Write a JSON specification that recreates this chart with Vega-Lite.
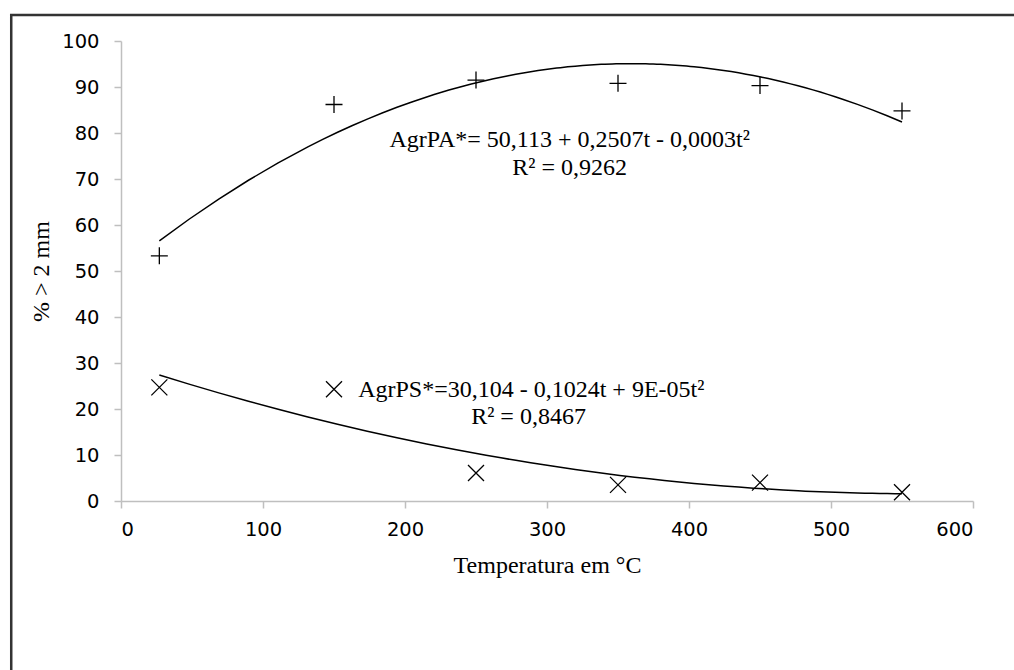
{
  "$schema": "https://vega.github.io/schema/vega-lite/v6.json",
  "autosize": {"type": "none"},
  "width": 852,
  "height": 460,
  "padding": {"left": 121, "top": 41, "right": 41, "bottom": 169},
  "background": "white",
  "config": {"view": {"stroke": null}},
  "datasets": {
    "points": [
      {"series": "AgrPA", "t": 27, "pct": 53.3},
      {"series": "AgrPA", "t": 150, "pct": 86.2},
      {"series": "AgrPA", "t": 250, "pct": 91.5},
      {"series": "AgrPA", "t": 350, "pct": 90.8},
      {"series": "AgrPA", "t": 450, "pct": 90.3},
      {"series": "AgrPA", "t": 550, "pct": 84.8},
      {"series": "AgrPS", "t": 27, "pct": 24.7},
      {"series": "AgrPS", "t": 150, "pct": 24.3},
      {"series": "AgrPS", "t": 250, "pct": 6.1},
      {"series": "AgrPS", "t": 350, "pct": 3.5},
      {"series": "AgrPS", "t": 450, "pct": 4.0},
      {"series": "AgrPS", "t": 550, "pct": 1.9}
    ],
    "labels": [
      {"label": "AgrPA*= 50,113 + 0,2507t - 0,0003t²", "t": 316, "pct": 78.5, "anchor": "center"},
      {"label": "R² = 0,9262", "t": 316, "pct": 72.5, "anchor": "center"},
      {"label": "AgrPS*=30,104 - 0,1024t + 9E-05t²", "t": 167, "pct": 24.2, "anchor": "left"},
      {"label": "R² = 0,8467", "t": 287, "pct": 18.3, "anchor": "center"}
    ]
  },
  "layer": [
    {
      "data": {"name": "points"},
      "transform": [{"regression": "pct", "on": "t", "method": "poly", "order": 2, "groupby": ["series"]}],
      "mark": {"type": "line", "color": "#000", "strokeWidth": 1.5},
      "encoding": {
        "x": {"field": "t", "type": "quantitative",
          "scale": {"domain": [0, 600], "nice": false, "zero": false},
          "axis": {"title": "Temperatura em °C", "values": [0, 100, 200, 300, 400, 500, 600],
            "grid": false, "domainColor": "#bfbfbf", "domainWidth": 1.5, "tickColor": "#bfbfbf", "tickWidth": 1.5, "tickSize": 7,
            "labelFont": "DejaVu Sans", "labelFontSize": 19.5, "labelColor": "#000", "labelPadding": 12,
            "titleFont": "Liberation Serif", "titleFontSize": 24, "titleFontWeight": "normal", "titleColor": "#000", "titlePadding": 15}},
        "y": {"field": "pct", "type": "quantitative",
          "scale": {"domain": [0, 100], "nice": false},
          "axis": {"title": "% > 2 mm", "values": [0, 10, 20, 30, 40, 50, 60, 70, 80, 90, 100],
            "grid": false, "domainColor": "#bfbfbf", "domainWidth": 1.5, "tickColor": "#bfbfbf", "tickWidth": 1.5, "tickSize": 7,
            "labelFont": "DejaVu Sans", "labelFontSize": 19.5, "labelColor": "#000", "labelPadding": 15,
            "titleFont": "Liberation Serif", "titleFontSize": 24, "titleFontWeight": "normal", "titleColor": "#000", "titlePadding": 8}},
        "detail": {"field": "series"}
      }
    },
    {
      "data": {"name": "points"},
      "transform": [{"filter": "datum.series === 'AgrPA'"}],
      "mark": {"type": "point", "shape": "M-1,0L1,0M0,-1L0,1", "filled": false, "color": "#000", "strokeWidth": 1.3, "size": 289, "opacity": 1},
      "encoding": {"x": {"field": "t", "type": "quantitative"}, "y": {"field": "pct", "type": "quantitative"}}
    },
    {
      "data": {"name": "points"},
      "transform": [{"filter": "datum.series === 'AgrPS'"}],
      "mark": {"type": "point", "shape": "M-1,-1L1,1M-1,1L1,-1", "filled": false, "color": "#000", "strokeWidth": 1.3, "size": 256, "opacity": 1},
      "encoding": {"x": {"field": "t", "type": "quantitative"}, "y": {"field": "pct", "type": "quantitative"}}
    },
    {
      "data": {"name": "labels"},
      "transform": [{"filter": "datum.anchor === 'center'"}],
      "mark": {"type": "text", "font": "Liberation Serif", "fontSize": 24, "align": "center", "baseline": "middle", "color": "#000"},
      "encoding": {"x": {"field": "t", "type": "quantitative"}, "y": {"field": "pct", "type": "quantitative"}, "text": {"field": "label"}}
    },
    {
      "data": {"name": "labels"},
      "transform": [{"filter": "datum.anchor === 'left'"}],
      "mark": {"type": "text", "font": "Liberation Serif", "fontSize": 24, "align": "left", "baseline": "middle", "color": "#000"},
      "encoding": {"x": {"field": "t", "type": "quantitative"}, "y": {"field": "pct", "type": "quantitative"}, "text": {"field": "label"}}
    },
    {
      "data": {"values": [{"frame": 1}]},
      "mark": {"type": "rect", "filled": false, "fill": "transparent", "stroke": "#333", "strokeWidth": 2.5, "clip": false},
      "encoding": {"x": {"datum": -77.3}, "x2": {"datum": 640}, "y": {"datum": 105.65}, "y2": {"datum": -45}}
    }
  ]
}
